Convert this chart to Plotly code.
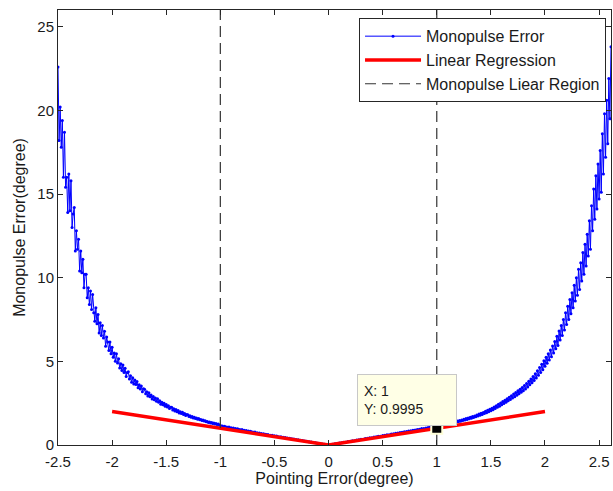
import plotly.graph_objects as go

# ---------------- data ----------------
# Left steep part: pointing error -2.50 ... -1.01, every 0.01 deg
left_start, left_step = -2.50, 0.01
err_left = [
    22.6, 18.2, 20.2, 17.8, 19.4, 16.0, 18.7, 15.4, 16.0, 13.9,
    16.2, 14.0, 15.8, 13.0, 13.8, 14.2, 11.6, 12.8, 11.7, 12.3,
    10.4, 11.6, 10.3, 11.1, 9.4, 10.2, 10.2, 8.8, 9.4, 8.4,
    9.2, 8.1, 9.0, 7.9, 7.4, 8.2, 7.25, 7.8, 6.7, 7.3,
    6.55, 7.15, 6.4, 6.8, 5.9, 6.45, 6.15, 5.65, 6.15, 5.45,
    5.85, 5.25, 5.5, 5.0, 5.45, 4.9, 5.15, 4.6, 4.85, 4.45,
    4.78, 4.34, 4.58, 4.1, 4.34, 4.38, 3.94, 4.14, 3.75, 4.02,
    3.65, 3.89, 3.61, 3.8, 3.42, 3.6, 3.34, 3.52, 3.19, 3.36,
    3.33, 3.06, 3.19, 2.93, 3.12, 2.89, 2.99, 2.75, 2.9, 2.7,
    2.81, 2.61, 2.76, 2.56, 2.65, 2.43, 2.56, 2.41, 2.49, 2.32,
    2.42, 2.27, 2.35, 2.18, 2.25, 2.25, 2.09, 2.16, 2.03, 2.12,
    1.99, 2.06, 1.91, 1.99, 1.88, 1.96, 1.83, 1.88, 1.77, 1.83,
    1.81, 1.71, 1.75, 1.66, 1.7, 1.62, 1.66, 1.58, 1.62, 1.54,
    1.58, 1.51, 1.53, 1.46, 1.5, 1.43, 1.45, 1.39, 1.41, 1.35,
    1.38, 1.32, 1.34, 1.29, 1.31, 1.26, 1.28, 1.22, 1.25, 1.19,
]

# Linear part: pointing error -1.00 ... 1.00, every 0.02 deg
center_start, center_step = -1.00, 0.02
err_center = [
    1.18, 1.14, 1.12, 1.08, 1.07, 1.03, 1.02, 0.98, 0.97, 0.93,
    0.92, 0.88, 0.87, 0.83, 0.82, 0.78, 0.77, 0.73, 0.72, 0.68,
    0.67, 0.64, 0.63, 0.59, 0.58, 0.55, 0.54, 0.5, 0.49, 0.46,
    0.45, 0.42, 0.41, 0.37, 0.36, 0.33, 0.32, 0.28, 0.27, 0.24,
    0.23, 0.19, 0.18, 0.15, 0.14, 0.1, 0.09, 0.06, 0.05, 0.02,
    0.0,
    0.03, 0.04, 0.07, 0.08, 0.12, 0.13, 0.16, 0.17, 0.21, 0.22,
    0.25, 0.26, 0.3, 0.31, 0.34, 0.35, 0.39, 0.4, 0.43, 0.44,
    0.48, 0.49, 0.52, 0.53, 0.57, 0.58, 0.61, 0.62, 0.66, 0.67,
    0.7, 0.71, 0.75, 0.76, 0.79, 0.8, 0.84, 0.85, 0.88, 0.9,
    0.93, 0.94, 0.98, 0.99, 1.02, 1.04, 1.07, 1.08, 1.12, 1.13,
]

# Right steep part: pointing error 1.01 ... 2.61, every 0.01 deg
right_start, right_step = 1.01, 0.01
err_right = [
    1.18, 1.15, 1.2, 1.18, 1.23, 1.2, 1.25, 1.22, 1.28, 1.25,
    1.3, 1.27, 1.34, 1.31, 1.37, 1.33, 1.4, 1.37, 1.43, 1.39,
    1.47, 1.42, 1.5, 1.46, 1.54, 1.49, 1.58, 1.53, 1.61, 1.57,
    1.66, 1.6, 1.7, 1.64, 1.74, 1.69, 1.79, 1.73, 1.85, 1.78,
    1.9, 1.83, 1.95, 1.89, 2.02, 1.93, 2.07, 1.99, 2.13, 2.05,
    2.2, 2.11, 2.27, 2.18, 2.34, 2.25, 2.43, 2.32, 2.51, 2.4,
    2.6, 2.48, 2.68, 2.55, 2.77, 2.64, 2.86, 2.72, 2.95, 2.81,
    3.05, 2.89, 3.14, 2.98, 3.24, 3.06, 3.33, 3.15, 3.43, 3.24,
    3.55, 3.35, 3.67, 3.47, 3.81, 3.6, 3.95, 3.72, 4.1, 3.86,
    4.26, 4.0, 4.44, 4.17, 4.63, 4.34, 4.82, 4.5, 5.03, 4.7,
    5.25, 4.88, 5.46, 5.08, 5.68, 5.27, 5.92, 5.5, 6.18, 5.75,
    6.5, 5.95, 6.82, 6.28, 7.15, 6.55, 7.5, 6.88, 7.9, 7.2,
    8.3, 7.5, 8.7, 7.85, 9.1, 8.2, 9.55, 8.6, 10.0, 8.95,
    10.5, 9.3, 10.9, 9.8, 11.5, 10.2, 12.0, 10.7, 12.6, 11.3,
    13.4, 11.7, 14.3, 12.8, 15.3, 13.5, 16.1, 14.1, 16.8, 14.7,
    17.6, 15.1, 18.6, 16.2, 19.8, 17.2, 20.6, 18.0, 21.9, 19.5,
    23.8,
]

reg_x = [-2, 0, 2]
reg_y = [2, 0, 2]

region_bounds = [-1, 1]
tip_x = 1
tip_y = 0.9995

x_ticks = [-2.5, -2, -1.5, -1, -0.5, 0, 0.5, 1, 1.5, 2, 2.5]
x_tick_labels = ["-2.5", "-2", "-1.5", "-1", "-0.5", "0", "0.5", "1", "1.5", "2", "2.5"]
y_ticks = [0, 5, 10, 15, 20, 25]
y_tick_labels = ["0", "5", "10", "15", "20", "25"]

x_range = [-2.5, 2.61]
y_range = [0, 26]

# ---------------- figure ----------------
def grid(start, step, n):
    return [round(start + step * i, 3) for i in range(n)]

pointing = (grid(left_start, left_step, len(err_left))
            + grid(center_start, center_step, len(err_center))
            + grid(right_start, right_step, len(err_right)))
err = err_left + err_center + err_right

FONT = "Liberation Sans, Arial, sans-serif"
TXT = "#1a1a1a"

fig = go.Figure()

fig.add_trace(go.Scatter(
    x=pointing, y=err, mode="lines+markers", name="Monopulse Error",
    line=dict(color="#0000FF", width=1),
    marker=dict(color="#0000FF", size=3),
    legendgroup="a",
))

fig.add_trace(go.Scatter(
    x=reg_x, y=reg_y, mode="lines", name="Linear Regression",
    line=dict(color="#FF0000", width=3.5),
    legendgroup="b",
))

vx, vy = [], []
for b in region_bounds:
    vx += [b, b, None]
    vy += [y_range[0], y_range[1], None]
fig.add_trace(go.Scatter(
    x=vx, y=vy, mode="lines", name="Monopulse Liear Region",
    line=dict(color="#333333", width=1.2, dash="11px,6px"),
    legendgroup="c",
))

fig.add_trace(go.Scatter(
    x=[tip_x], y=[tip_y], mode="markers", showlegend=False,
    marker=dict(symbol="square", size=11, color="black",
                line=dict(color="#FFFFD8", width=2)),
))

fig.add_annotation(
    x=tip_x, y=tip_y, xref="x", yref="y",
    text=f"X: {tip_x}<br>Y: {tip_y}",
    showarrow=False, xanchor="right", yanchor="bottom",
    xshift=20, yshift=2, align="left",
    width=86, height=38,
    bgcolor="#FFFFE6", bordercolor="#C8C8C8", borderwidth=1, borderpad=6,
    font=dict(family=FONT, size=14, color=TXT),
)

axis_common = dict(
    showline=True, linecolor="#262626", linewidth=1, mirror="ticks",
    ticks="inside", ticklen=5, tickcolor="#262626", tickwidth=1,
    showgrid=False, zeroline=False,
    tickfont=dict(family=FONT, size=15, color=TXT),
)

fig.update_xaxes(
    range=x_range, tickvals=x_ticks, ticktext=x_tick_labels,
    ticklabelstandoff=3,
    title=dict(text="Pointing Error(degree)", standoff=3,
               font=dict(family=FONT, size=16, color=TXT)),
    **axis_common,
)
fig.update_yaxes(
    range=y_range, tickvals=y_ticks, ticktext=y_tick_labels,
    title=dict(text="Monopulse Error(degree)", standoff=7,
               font=dict(family=FONT, size=16, color=TXT)),
    **axis_common,
)

fig.update_layout(
    width=613, height=491,
    margin=dict(l=58, r=2, t=10, b=46),
    paper_bgcolor="white", plot_bgcolor="white",
    font=dict(family=FONT, size=15, color=TXT),
    legend=dict(
        x=0.991, y=0.981, xanchor="right", yanchor="top",
        bgcolor="white", bordercolor="#262626", borderwidth=1,
        font=dict(family=FONT, size=16, color=TXT),
        itemwidth=56, tracegroupgap=0, traceorder="grouped",
    ),
)

fig.write_html("out.html")
